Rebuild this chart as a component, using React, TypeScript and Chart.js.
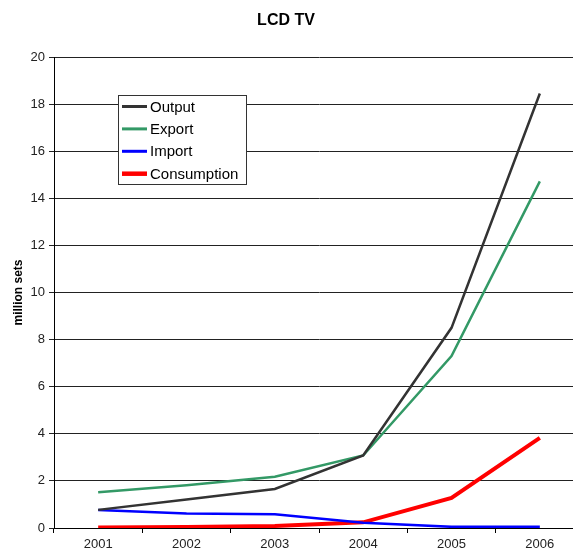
import React, { useEffect, useRef } from "react";
import { Chart, registerables } from "chart.js";

Chart.register(...registerables);

const chartTitle = "LCD TV";
const yAxisTitle = "million sets";
const years = ["2001", "2002", "2003", "2004", "2005", "2006"];
const outputValues = [0.77, 1.21, 1.66, 3.08, 8.5, 18.45];
const exportValues = [1.52, 1.82, 2.18, 3.08, 7.3, 14.72];
const importValues = [0.76, 0.62, 0.58, 0.22, 0.05, 0.05];
const consumptionValues = [0.02, 0.04, 0.09, 0.24, 1.28, 3.83];
const seriesNames = ["Output", "Export", "Import", "Consumption"];
const seriesColors = ["#333333", "#339966", "#0000FF", "#FF0000"];
const seriesWidths = [2.5, 2.5, 2.5, 4];

const titlePlugin = {
  id: "fixedTitle",
  afterDraw(chart: any) {
    const ctx = chart.ctx;
    ctx.save();
    ctx.font = "bold 16px Arial, 'Liberation Sans', sans-serif";
    ctx.fillStyle = "#000";
    ctx.textAlign = "center";
    ctx.textBaseline = "middle";
    ctx.fillText(chartTitle, 286, 21);
    ctx.restore();
  },
};

const boxLegendPlugin = {
  id: "boxLegend",
  afterDraw(chart: any) {
    const ctx = chart.ctx;
    const x0 = 118.5, y0 = 95.5, w = 128, h = 89;
    ctx.save();
    ctx.fillStyle = "#fff";
    ctx.fillRect(x0, y0, w, h);
    ctx.strokeStyle = "#333";
    ctx.lineWidth = 1;
    ctx.strokeRect(x0, y0, w, h);
    ctx.font = "15px Arial, 'Liberation Sans', sans-serif";
    ctx.textAlign = "left";
    ctx.textBaseline = "middle";
    chart.data.datasets.forEach((ds: any, i: number) => {
      const cy = 106.5 + i * 22.4;
      ctx.strokeStyle = ds.borderColor;
      ctx.lineWidth = ds.borderWidth + 0.5;
      ctx.beginPath();
      ctx.moveTo(122, cy);
      ctx.lineTo(147, cy);
      ctx.stroke();
      ctx.fillStyle = "#000";
      ctx.fillText(ds.label, 150, cy + 1);
    });
    ctx.restore();
  },
};

export default function App() {
  const ref = useRef<HTMLCanvasElement>(null);
  useEffect(() => {
    const all = [outputValues, exportValues, importValues, consumptionValues];
    const chart = new Chart(ref.current!, {
      type: "line",
      data: {
        labels: years,
        datasets: all.map((vals, i) => ({
          label: seriesNames[i],
          data: vals,
          borderColor: seriesColors[i],
          backgroundColor: seriesColors[i],
          borderWidth: seriesWidths[i],
          pointRadius: 0,
          tension: 0,
          fill: false,
        })),
      },
      options: {
        responsive: false,
        animation: false,
        layout: { padding: { top: 57, left: 0, right: 16, bottom: 0 } },
        plugins: {
          legend: { display: false },
          title: { display: false },
          tooltip: { enabled: false },
        },
        scales: {
          x: {
            type: "category",
            offset: true,
            afterFit(s: any) { s.height = 26; },
            grid: {
              offset: true,
              drawOnChartArea: false,
              drawTicks: true,
              tickLength: 5,
              color: "#000",
            },
            border: { color: "#000", width: 1 },
            ticks: {
              color: "#222",
              font: { family: "Arial, 'Liberation Sans', sans-serif", size: 13 },
              padding: 4,
              maxRotation: 0,
            },
          },
          y: {
            min: 0,
            max: 20,
            afterFit(s: any) { s.width = 54; },
            grid: {
              color: "#222",
              lineWidth: 1,
              drawTicks: true,
              tickLength: 5,
            },
            border: { color: "#000", width: 1 },
            title: {
              display: true,
              text: yAxisTitle,
              color: "#000",
              font: { family: "Arial, 'Liberation Sans', sans-serif", size: 12, weight: "bold" },
              padding: { top: 11, bottom: 0 },
            },
            ticks: {
              stepSize: 2,
              color: "#222",
              font: { family: "Arial, 'Liberation Sans', sans-serif", size: 13 },
              padding: 4,
            },
          },
        },
      },
      plugins: [titlePlugin, boxLegendPlugin],
    } as any);
    return () => chart.destroy();
  }, []);
  return (
    <div style={{ position: "fixed", left: 0, top: 0, width: 573, height: 554, overflow: "hidden", background: "#fff" }}>
      <canvas ref={ref} width={600} height={554} style={{ display: "block" }} />
    </div>
  );
}
